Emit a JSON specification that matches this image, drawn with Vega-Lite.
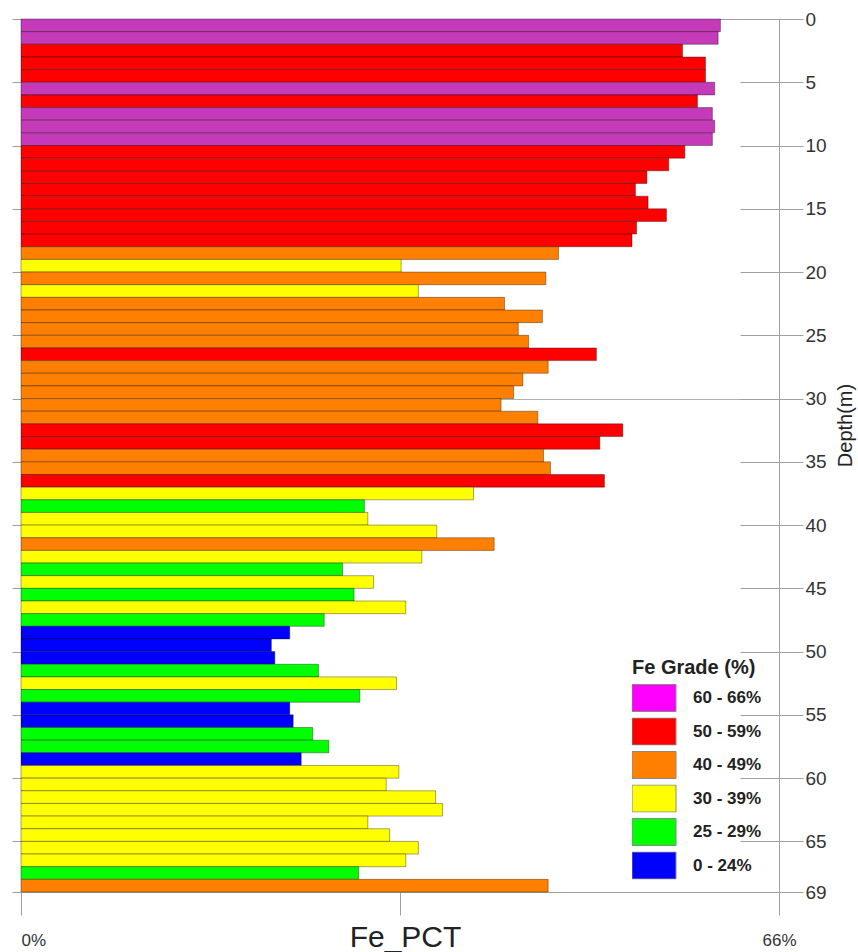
{
  "$schema": "https://vega.github.io/schema/vega-lite/v6.json",
  "width": 758,
  "height": 873,
  "autosize": {"type": "none"},
  "padding": {"left": 21, "top": 19, "right": 79, "bottom": 60},
  "background": "white",
  "config": {"view": {"stroke": "#a0a0a0", "strokeWidth": 1}, "font": "Liberation Sans"},
  "data": {"values": [
    {"from": 0, "to": 1, "fe": 60.9, "grade": "60 - 66%"},
    {"from": 1, "to": 2, "fe": 60.7, "grade": "60 - 66%"},
    {"from": 2, "to": 3, "fe": 57.6, "grade": "50 - 59%"},
    {"from": 3, "to": 4, "fe": 59.6, "grade": "50 - 59%"},
    {"from": 4, "to": 5, "fe": 59.6, "grade": "50 - 59%"},
    {"from": 5, "to": 6, "fe": 60.4, "grade": "60 - 66%"},
    {"from": 6, "to": 7, "fe": 58.9, "grade": "50 - 59%"},
    {"from": 7, "to": 8, "fe": 60.2, "grade": "60 - 66%"},
    {"from": 8, "to": 9, "fe": 60.4, "grade": "60 - 66%"},
    {"from": 9, "to": 10, "fe": 60.2, "grade": "60 - 66%"},
    {"from": 10, "to": 11, "fe": 57.8, "grade": "50 - 59%"},
    {"from": 11, "to": 12, "fe": 56.4, "grade": "50 - 59%"},
    {"from": 12, "to": 13, "fe": 54.5, "grade": "50 - 59%"},
    {"from": 13, "to": 14, "fe": 53.5, "grade": "50 - 59%"},
    {"from": 14, "to": 15, "fe": 54.6, "grade": "50 - 59%"},
    {"from": 15, "to": 16, "fe": 56.2, "grade": "50 - 59%"},
    {"from": 16, "to": 17, "fe": 53.6, "grade": "50 - 59%"},
    {"from": 17, "to": 18, "fe": 53.2, "grade": "50 - 59%"},
    {"from": 18, "to": 19, "fe": 46.8, "grade": "40 - 49%"},
    {"from": 19, "to": 20, "fe": 33.1, "grade": "30 - 39%"},
    {"from": 20, "to": 21, "fe": 45.7, "grade": "40 - 49%"},
    {"from": 21, "to": 22, "fe": 34.6, "grade": "30 - 39%"},
    {"from": 22, "to": 23, "fe": 42.1, "grade": "40 - 49%"},
    {"from": 23, "to": 24, "fe": 45.4, "grade": "40 - 49%"},
    {"from": 24, "to": 25, "fe": 43.3, "grade": "40 - 49%"},
    {"from": 25, "to": 26, "fe": 44.2, "grade": "40 - 49%"},
    {"from": 26, "to": 27, "fe": 50.1, "grade": "50 - 59%"},
    {"from": 27, "to": 28, "fe": 45.9, "grade": "40 - 49%"},
    {"from": 28, "to": 29, "fe": 43.7, "grade": "40 - 49%"},
    {"from": 29, "to": 30, "fe": 42.9, "grade": "40 - 49%"},
    {"from": 30, "to": 31, "fe": 41.8, "grade": "40 - 49%"},
    {"from": 31, "to": 32, "fe": 45.0, "grade": "40 - 49%"},
    {"from": 32, "to": 33, "fe": 52.4, "grade": "50 - 59%"},
    {"from": 33, "to": 34, "fe": 50.4, "grade": "50 - 59%"},
    {"from": 34, "to": 35, "fe": 45.5, "grade": "40 - 49%"},
    {"from": 35, "to": 36, "fe": 46.1, "grade": "40 - 49%"},
    {"from": 36, "to": 37, "fe": 50.8, "grade": "50 - 59%"},
    {"from": 37, "to": 38, "fe": 39.4, "grade": "30 - 39%"},
    {"from": 38, "to": 39, "fe": 29.9, "grade": "25 - 29%"},
    {"from": 39, "to": 40, "fe": 30.2, "grade": "30 - 39%"},
    {"from": 40, "to": 41, "fe": 36.2, "grade": "30 - 39%"},
    {"from": 41, "to": 42, "fe": 41.2, "grade": "40 - 49%"},
    {"from": 42, "to": 43, "fe": 34.9, "grade": "30 - 39%"},
    {"from": 43, "to": 44, "fe": 28.0, "grade": "25 - 29%"},
    {"from": 44, "to": 45, "fe": 30.7, "grade": "30 - 39%"},
    {"from": 45, "to": 46, "fe": 29.0, "grade": "25 - 29%"},
    {"from": 46, "to": 47, "fe": 33.5, "grade": "30 - 39%"},
    {"from": 47, "to": 48, "fe": 26.4, "grade": "25 - 29%"},
    {"from": 48, "to": 49, "fe": 23.4, "grade": "0 - 24%"},
    {"from": 49, "to": 50, "fe": 21.8, "grade": "0 - 24%"},
    {"from": 50, "to": 51, "fe": 22.1, "grade": "0 - 24%"},
    {"from": 51, "to": 52, "fe": 25.9, "grade": "25 - 29%"},
    {"from": 52, "to": 53, "fe": 32.7, "grade": "30 - 39%"},
    {"from": 53, "to": 54, "fe": 29.5, "grade": "25 - 29%"},
    {"from": 54, "to": 55, "fe": 23.4, "grade": "0 - 24%"},
    {"from": 55, "to": 56, "fe": 23.7, "grade": "0 - 24%"},
    {"from": 56, "to": 57, "fe": 25.4, "grade": "25 - 29%"},
    {"from": 57, "to": 58, "fe": 26.8, "grade": "25 - 29%"},
    {"from": 58, "to": 59, "fe": 24.4, "grade": "0 - 24%"},
    {"from": 59, "to": 60, "fe": 32.9, "grade": "30 - 39%"},
    {"from": 60, "to": 61, "fe": 31.8, "grade": "30 - 39%"},
    {"from": 61, "to": 62, "fe": 36.1, "grade": "30 - 39%"},
    {"from": 62, "to": 63, "fe": 36.7, "grade": "30 - 39%"},
    {"from": 63, "to": 64, "fe": 30.2, "grade": "30 - 39%"},
    {"from": 64, "to": 65, "fe": 32.1, "grade": "30 - 39%"},
    {"from": 65, "to": 66, "fe": 34.6, "grade": "30 - 39%"},
    {"from": 66, "to": 67, "fe": 33.5, "grade": "30 - 39%"},
    {"from": 67, "to": 68, "fe": 29.4, "grade": "25 - 29%"},
    {"from": 68, "to": 69, "fe": 45.9, "grade": "40 - 49%"}
  ]},
  "encoding": {
    "x": {
      "field": "fe", "type": "quantitative",
      "scale": {"domain": [0, 66], "nice": false},
      "axis": {
        "values": [0, 33, 66],
        "tickSize": 23,
        "domain": false,
        "grid": false,
        "tickColor": "#a0a0a0",
        "labelExpr": "datum.value == 33 ? '' : datum.value + '%'",
        "labelFontSize": 17,
        "labelColor": "#333333",
        "labelPadding": 17,
        "labelFlush": false,
        "labelAlign": {"condition": {"test": "datum.value == 0", "value": "left"}, "value": "center"},
        "title": "Fe_PCT",
        "titleFontSize": 30,
        "titleFontWeight": "normal",
        "titleColor": "#222222",
        "titleY": 54,
        "titleX": 384,
        "titleBaseline": "alphabetic"
      }
    },
    "x2": {"datum": 0}
  },
  "layer": [
    {
      "mark": {"type": "rect", "stroke": "#000000", "strokeOpacity": 0.35, "strokeWidth": 1},
      "encoding": {
        "y": {
          "field": "from", "type": "quantitative",
          "scale": {"domain": [0, 69], "reverse": true, "nice": false, "zero": false},
          "axis": {
            "orient": "left",
            "values": [0, 5, 10, 15, 20, 25, 30, 35, 40, 45, 50, 55, 60, 65, 69],
            "tickSize": 9,
            "labels": false,
            "domain": false,
            "title": null,
            "tickColor": "#a0a0a0",
            "grid": true,
            "gridColor": "#b0b0b0",
            "gridOpacity": {"condition": {"test": "datum.value === 30", "value": 1}, "value": 0}
          }
        },
        "y2": {"field": "to"},
        "color": {
          "field": "grade", "type": "nominal",
          "scale": {
            "domain": ["60 - 66%", "50 - 59%", "40 - 49%", "30 - 39%", "25 - 29%", "0 - 24%"],
            "range": ["#C43AB8", "#FF0000", "#FF8000", "#FFFF00", "#00FF00", "#0000FF"]
          },
          "legend": null
        }
      }
    },
    {
      "mark": {"type": "rect", "opacity": 0},
      "encoding": {
        "y": {
          "field": "from", "type": "quantitative",
          "scale": {"domain": [0, 69], "reverse": true, "nice": false, "zero": false},
          "axis": {
            "orient": "right",
            "values": [0, 5, 10, 15, 20, 25, 30, 35, 40, 45, 50, 55, 60, 65, 69],
            "offset": -39,
            "tickSize": 63,
            "domain": false,
            "grid": false,
            "tickColor": "#a0a0a0",
            "labelFontSize": 19,
            "labelColor": "#333333",
            "labelPadding": 2,
            "labelFlush": false,
            "labelOverlap": false,
            "title": "Depth(m)",
            "titleFontSize": 20,
            "titleFontWeight": "normal",
            "titleColor": "#222222",
            "titleAngle": 270,
            "titleX": 105,
            "titleY": 406,
            "titleAlign": "center",
            "titleBaseline": "middle"
          }
        },
        "y2": {"field": "to"},
        "color": {
          "field": "grade", "type": "nominal",
          "scale": {
            "domain": ["60 - 66%", "50 - 59%", "40 - 49%", "30 - 39%", "25 - 29%", "0 - 24%"],
            "range": ["#FF00FF", "#FF0000", "#FF8000", "#FFFF00", "#00FF00", "#0000FF"]
          },
          "legend": {
            "title": "Fe Grade (%)",
            "orient": "none",
            "legendX": 611,
            "legendY": 639,
            "padding": 0,
            "titleFontSize": 20,
            "titleFontWeight": "bold",
            "titleColor": "#222222",
            "titlePadding": 6,
            "labelFontSize": 17,
            "labelFontWeight": "bold",
            "labelColor": "#222222",
            "labelOffset": 25,
            "symbolType": "M-1.63,-1H1.63V1H-1.63Z",
            "symbolSize": 729,
            "symbolOffset": 8,
            "symbolOpacity": 1,
            "symbolStrokeColor": "#888888",
            "symbolStrokeWidth": 1,
            "clipHeight": 28,
            "rowPadding": 5.5
          }
        }
      }
    }
  ],
  "resolve": {"scale": {"color": "independent"}, "axis": {"y": "independent"}}
}
